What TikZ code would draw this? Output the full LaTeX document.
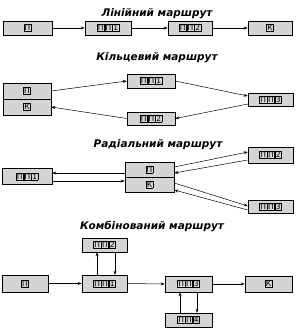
\documentclass[tikz,border=0pt]{standalone}
\usepackage{fontspec}
\setmainfont{DejaVu Sans}
\usetikzlibrary{arrows.meta, positioning}
\definecolor{routeGray}{RGB}{212, 212, 212}
\newcommand{\cel}[1]{{\setlength{\fboxsep}{0.6pt}\setlength{\fboxrule}{0.5pt}\fbox{#1}}}
\tikzset{
  stopbox/.style={
    rectangle, draw=black, line width=0.6pt,
    fill=routeGray,
    minimum width=46pt, minimum height=14pt,
    inner sep=1pt, font=\fontsize{7.5}{8}\selectfont
  },
  titletext/.style={font=\fontsize{10.5}{12}\selectfont\bfseries\itshape},
  myarrow/.style={-{Stealth[length=4pt,width=3pt]}, line width=0.5pt}
}

\begin{document}
\begin{tikzpicture}[x=1pt, y=-1pt]

\useasboundingbox (0,0) rectangle (297,334);

%% LINEAR ROUTE
\node[titletext] (t_lin) at (157,14) {Лінійний маршрут};
\node[stopbox, minimum width=49pt] (l_p) at (27.5,28) {\cel{П}};
\node[stopbox] (l_pp1) at (108,28) {\cel{П}\cel{П}\cel{1}};
\node[stopbox, minimum width=44pt] (l_pp2) at (190,28) {\cel{П}\cel{П}\cel{2}};
\node[stopbox, minimum width=44pt] (l_k) at (270,28) {\cel{К}};

\draw[myarrow] (l_p) -- (l_pp1);
\draw[myarrow] (l_pp1) -- (l_pp2);
\draw[myarrow] (l_pp2) -- (l_k);

%% RING ROUTE
\node[titletext] (t_ring) at (157,58) {Кільцевий маршрут};
\node[stopbox, minimum width=48pt, minimum height=16pt] (r_p) at (27,91) {\cel{П}};
\node[stopbox, minimum width=48pt, minimum height=16pt] (r_k) at (27,107) {\cel{К}};
\node[stopbox, minimum width=48pt] (r_pp1) at (151,81) {\cel{П}\cel{П}\cel{1}};
\node[stopbox, minimum width=48pt, minimum height=13pt] (r_pp2) at (151,118.5) {\cel{П}\cel{П}\cel{2}};
\node[stopbox, minimum width=45pt, minimum height=13pt] (r_pp3) at (270.5,100) {\cel{П}\cel{П}\cel{3}};

\draw[myarrow] (r_p.east) -- (r_pp1.west);
\draw[myarrow] (r_pp1.east) -- (r_pp3.170);
\draw[myarrow] (r_pp3.190) -- (r_pp2.east);
\draw[myarrow] (r_pp2.west) -- (r_k.east);

%% RADIAL ROUTE
\node[titletext] (t_rad) at (158,145) {Радіальний маршрут};
\node[stopbox, minimum width=50pt, minimum height=16pt] (d_pp1) at (27,176.5) {\cel{П}\cel{П}\cel{1}};
\node[stopbox, minimum width=49pt, minimum height=15pt] (d_p) at (149.5,169.5) {\cel{П}};
\node[stopbox, minimum width=49pt, minimum height=15pt] (d_k) at (149.5,184.5) {\cel{К}};
\node[stopbox, minimum width=45pt, minimum height=16pt] (d_pp2) at (270.5,155) {\cel{П}\cel{П}\cel{2}};
\node[stopbox, minimum width=45pt, minimum height=13pt] (d_pp3) at (270.5,206.5) {\cel{П}\cel{П}\cel{3}};

\draw[myarrow] ([yshift=-3.5pt]d_p.west) -- ([yshift=3.5pt]d_pp1.east);
\draw[myarrow] ([yshift=-4.5pt]d_pp1.east) -- ([yshift=3.5pt]d_k.west);
\draw[myarrow] ([yshift=2.5pt]d_p.east) -- ([yshift=3pt]d_pp2.west);
\draw[myarrow] ([yshift=-5pt]d_pp2.west) -- ([yshift=-3.5pt]d_p.east);
\draw[myarrow] ([yshift=1.5pt]d_k.east) -- ([yshift=0.5pt]d_pp3.west);
\draw[myarrow] ([yshift=-3.5pt]d_pp3.west) -- ([yshift=-5.5pt]d_k.east);

%% COMBINED ROUTE
\node[titletext] (t_comb) at (152,226) {Комбінований маршрут};
\node[stopbox, minimum width=45pt] (c_pp2) at (104.5,245) {\cel{П}\cel{П}\cel{2}};
\node[stopbox, minimum height=17pt] (c_p) at (25,283.5) {\cel{П}};
\node[stopbox, minimum width=45pt, minimum height=17pt] (c_pp1) at (104.5,283.5) {\cel{П}\cel{П}\cel{1}};
\node[stopbox, minimum width=47pt, minimum height=16pt] (c_pp3) at (188.5,284) {\cel{П}\cel{П}\cel{3}};
\node[stopbox, minimum width=47pt, minimum height=16pt] (c_k) at (268.5,284) {\cel{К}};
\node[stopbox, minimum width=47pt] (c_pp4) at (188.5,320) {\cel{П}\cel{П}\cel{4}};

\draw[myarrow] (c_p) -- (c_pp1);
\draw[myarrow] (c_pp1) -- (c_pp3);
\draw[myarrow] (c_pp3) -- (c_k);

% side stops
\draw[myarrow] ([xshift=-7.5pt]c_pp1.north) -- ([xshift=-7.5pt]c_pp2.south);
\draw[myarrow] ([xshift=10.5pt]c_pp2.south) -- ([xshift=10.5pt]c_pp1.north);
\draw[myarrow] ([xshift=-8.5pt]c_pp4.north) -- ([xshift=-8.5pt]c_pp3.south);
\draw[myarrow] ([xshift=8.5pt]c_pp3.south) -- ([xshift=8.5pt]c_pp4.north);

\end{tikzpicture}
\end{document}
